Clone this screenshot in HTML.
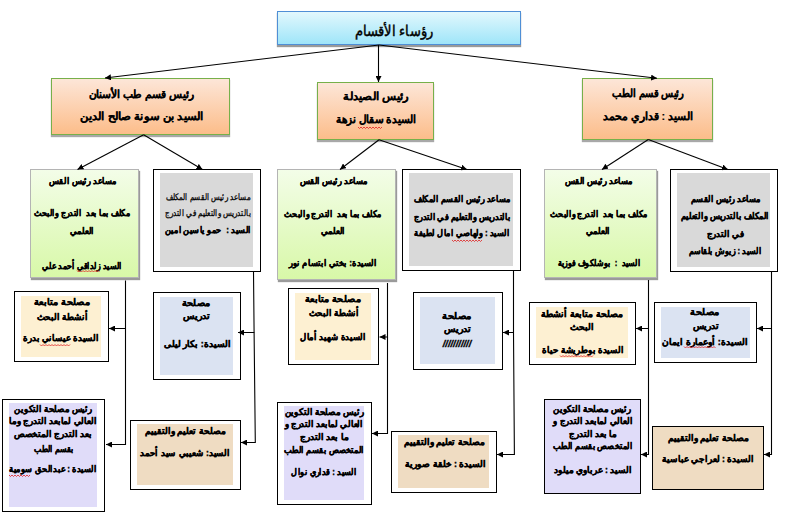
<!DOCTYPE html>
<html lang="ar"><head><meta charset="utf-8">
<style>
html,body{margin:0;padding:0;background:#fff;}
body{width:787px;height:526px;position:relative;overflow:hidden;font-family:"Liberation Sans",sans-serif;color:#000;}
.b{position:absolute;box-sizing:border-box;}
.f{position:absolute;}
.l{position:absolute;width:400px;-webkit-text-stroke:0.35px #000;text-align:center;direction:rtl;white-space:pre;line-height:1;transform-origin:200px 50%;}
.ob{border:1px solid #000;background:#fff;}
.org{border:1px solid #77b04a;background:linear-gradient(#fde6d8,#fcbd8a);box-shadow:0 2px 1px #a8a8a8;}
.grn{border:1px solid #b4b4b4;background:linear-gradient(#f3fde8,#d8f8a8);box-shadow:1px 2px 1px #9a9a9a;}
.sq{position:absolute;height:2px;background:repeating-linear-gradient(90deg,#e03030 0 1.5px,transparent 1.5px 3px);}
svg{position:absolute;left:0;top:0;}
</style></head><body>

<div class="b " style="left:277px;top:11px;width:244px;height:34px;border:1px solid #4f8fd6;background:linear-gradient(#e2f8fd,#9fe5f9);box-shadow:0 2px 1px #9a9a9a;"></div>
<div class="b org" style="left:51px;top:78px;width:179px;height:57px;"></div>
<div class="b org" style="left:317px;top:82px;width:117px;height:58px;"></div>
<div class="b org" style="left:582px;top:78px;width:131px;height:62px;"></div>
<div class="b grn" style="left:30px;top:169px;width:109px;height:109px;"></div>
<div class="b grn" style="left:277px;top:169px;width:119px;height:111px;"></div>
<div class="b grn" style="left:544px;top:169px;width:113px;height:109px;"></div>
<div class="b ob" style="left:153px;top:169px;width:108px;height:103px;"></div>
<div class="f" style="left:160px;top:173px;width:93px;height:94px;background:#d9d9d9;"></div>
<div class="b ob" style="left:402px;top:169px;width:119px;height:102px;"></div>
<div class="f" style="left:409px;top:173px;width:104px;height:93px;background:#d9d9d9;"></div>
<div class="b ob" style="left:670px;top:169px;width:108px;height:103px;"></div>
<div class="f" style="left:677px;top:173px;width:93px;height:94px;background:#d9d9d9;"></div>
<div class="b ob" style="left:14px;top:291px;width:95px;height:71px;"></div>
<div class="f" style="left:21px;top:296px;width:80px;height:61px;background:#fdf0d2;"></div>
<div class="b ob" style="left:153px;top:292px;width:88px;height:88px;"></div>
<div class="f" style="left:160px;top:297px;width:73px;height:78px;background:#dbe3f2;"></div>
<div class="b ob" style="left:288px;top:288px;width:91px;height:77px;"></div>
<div class="f" style="left:295px;top:293px;width:76px;height:67px;background:#fdf0d2;"></div>
<div class="b ob" style="left:413px;top:292px;width:90px;height:78px;"></div>
<div class="f" style="left:420px;top:297px;width:75px;height:67px;background:#dbe3f2;"></div>
<div class="b ob" style="left:529px;top:302px;width:107px;height:63px;"></div>
<div class="f" style="left:536px;top:307px;width:92px;height:51px;background:#fdf0d2;"></div>
<div class="b ob" style="left:654px;top:302px;width:103px;height:61px;"></div>
<div class="f" style="left:661px;top:307px;width:89px;height:51px;background:#dbe3f2;"></div>
<div class="b ob" style="left:2px;top:399px;width:103px;height:113px;"></div>
<div class="f" style="left:9px;top:403px;width:88px;height:104px;background:#e0dcf9;"></div>
<div class="b ob" style="left:130px;top:420px;width:111px;height:70px;"></div>
<div class="f" style="left:137px;top:424px;width:96px;height:61px;background:#efdcc2;"></div>
<div class="b ob" style="left:277px;top:402px;width:95px;height:103px;"></div>
<div class="f" style="left:284px;top:406px;width:80px;height:94px;background:#e0dcf9;"></div>
<div class="b ob" style="left:391px;top:431px;width:106px;height:62px;"></div>
<div class="f" style="left:398px;top:435px;width:91px;height:53px;background:#efdcc2;"></div>
<div class="b ob" style="left:544px;top:399px;width:97px;height:95px;background:#e0dcf9"></div>
<div class="b ob" style="left:652px;top:426px;width:112px;height:64px;background:#efdcc2"></div>
<div class="l" style="left:193.71px;top:23.3px;font-size:15px;font-weight:normal;-webkit-text-stroke:0.45px #000;transform:scaleX(0.87);">رؤساء الأقسام</div>
<div class="l" style="left:-58.64px;top:89.1px;font-size:11px;font-weight:bold;-webkit-text-stroke:0.15px #000;transform:scaleX(0.97);">رئيس قسم طب الأسنان</div>
<div class="l" style="left:-58.35px;top:110.55px;font-size:11px;font-weight:bold;-webkit-text-stroke:0.15px #000;transform:scaleX(1.05);">السيد بن سونة صالح الدين</div>
<div class="l" style="left:175.98px;top:91.0px;font-size:11px;font-weight:bold;-webkit-text-stroke:0.15px #000;transform:scaleX(1.05);">رئيس الصيدلة</div>
<div class="l" style="left:175.9px;top:113.6px;font-size:11px;font-weight:bold;-webkit-text-stroke:0.15px #000;transform:scaleX(0.95);">السيدة سقال نزهة</div>
<div class="l" style="left:448.1px;top:88.25px;font-size:11px;font-weight:bold;-webkit-text-stroke:0.15px #000;transform:scaleX(0.9);">رئيس قسم الطب</div>
<div class="l" style="left:447.84px;top:110.9px;font-size:11px;font-weight:bold;-webkit-text-stroke:0.15px #000;transform:scaleX(0.98);">السيد : قداري محمد</div>
<div class="l" style="left:-117.4px;top:177.0px;font-size:9px;font-weight:bold;transform:scaleX(0.91);">مساعد رئيس القس</div>
<div class="l" style="left:-118.16px;top:209.35px;font-size:9px;font-weight:bold;transform:scaleX(0.88);">مكلف بما بعد  التدرج والبحث</div>
<div class="l" style="left:-117.94px;top:227.15px;font-size:9px;font-weight:bold;transform:scaleX(0.93);">العلمي</div>
<div class="l" style="left:-118.51px;top:262.35px;font-size:9px;font-weight:bold;transform:scaleX(0.87);">السيد زلداقي أحمد علي</div>
<div class="l" style="left:133.61px;top:177.0px;font-size:9px;font-weight:bold;transform:scaleX(0.92);">مساعد رئيس القس</div>
<div class="l" style="left:133.04px;top:209.8px;font-size:9px;font-weight:bold;transform:scaleX(0.89);">مكلف بما بعد  التدرج والبحث</div>
<div class="l" style="left:133.17px;top:226.7px;font-size:9px;font-weight:bold;transform:scaleX(0.94);">العلمي</div>
<div class="l" style="left:132.71px;top:258.9px;font-size:9px;font-weight:bold;transform:scaleX(0.92);">السيدة: بختي ابتسام نور</div>
<div class="l" style="left:398.61px;top:177.0px;font-size:9px;font-weight:bold;transform:scaleX(0.92);">مساعد رئيس القس</div>
<div class="l" style="left:399.24px;top:209.8px;font-size:9px;font-weight:bold;transform:scaleX(0.89);">مكلف بما بعد  التدرج والبحث</div>
<div class="l" style="left:398.17px;top:226.7px;font-size:9px;font-weight:bold;transform:scaleX(0.94);">العلمي</div>
<div class="l" style="left:398.93px;top:258.9px;font-size:9px;font-weight:bold;transform:scaleX(0.86);">السيد  :  بوشلكوف فوزية</div>
<div class="l" style="left:8.15px;top:192.9px;font-size:9px;font-weight:normal;-webkit-text-stroke:0.3px #000;transform:scaleX(0.79);">مساعد رئيس القسم المكلف</div>
<div class="l" style="left:7.85px;top:209.15px;font-size:9px;font-weight:normal;-webkit-text-stroke:0.3px #000;transform:scaleX(0.8);">بالتدريس والتعليم في التدرج</div>
<div class="l" style="left:7.75px;top:225.8px;font-size:9px;font-weight:bold;transform:scaleX(0.9);">السيد :  حمو ياسين امين</div>
<div class="l" style="left:262.45px;top:194.65px;font-size:9px;font-weight:bold;transform:scaleX(0.9);">مساعد رئيس القسم المكلف</div>
<div class="l" style="left:261.55px;top:213.25px;font-size:9px;font-weight:bold;transform:scaleX(0.9);">بالتدريس والتعليم في التدرج</div>
<div class="l" style="left:261.75px;top:229.1px;font-size:9px;font-weight:bold;transform:scaleX(0.9);">السيد : ولهاصي امال لطيفة</div>
<div class="l" style="left:525.71px;top:194.75px;font-size:9px;font-weight:bold;transform:scaleX(0.91);">مساعد رئيس القسم</div>
<div class="l" style="left:524.81px;top:212.0px;font-size:9px;font-weight:bold;transform:scaleX(0.91);">المكلف بالتدريس والتعليم</div>
<div class="l" style="left:524.77px;top:229.5px;font-size:9px;font-weight:bold;transform:scaleX(0.96);">في التدرج</div>
<div class="l" style="left:525.03px;top:247.25px;font-size:9px;font-weight:bold;transform:scaleX(0.87);">السيد : زيوش بلقاسم</div>
<div class="l" style="left:-138.27px;top:298.3px;font-size:9px;font-weight:bold;transform:scaleX(1.07);">مصلحة متابعة</div>
<div class="l" style="left:-138.16px;top:312.95px;font-size:9px;font-weight:bold;transform:scaleX(0.97);">أنشطة البحث</div>
<div class="l" style="left:-138.59px;top:334.4px;font-size:9px;font-weight:bold;transform:scaleX(0.96);">السيدة عيساني بدرة</div>
<div class="l" style="left:-3.65px;top:299.05px;font-size:9px;font-weight:bold;transform:scaleX(1.07);">مصلحة</div>
<div class="l" style="left:-3.23px;top:312.05px;font-size:9px;font-weight:bold;transform:scaleX(1.04);">تدريس</div>
<div class="l" style="left:-2.75px;top:340.0px;font-size:9px;font-weight:bold;transform:scaleX(1.0);">السيدة: بكار ليلى</div>
<div class="l" style="left:133.43px;top:295.2px;font-size:9px;font-weight:bold;transform:scaleX(1.06);">مصلحة متابعة</div>
<div class="l" style="left:133.58px;top:309.0px;font-size:9px;font-weight:bold;transform:scaleX(0.96);">أنشطة البحث</div>
<div class="l" style="left:132.72px;top:333.3px;font-size:9px;font-weight:bold;transform:scaleX(0.94);">السيدة شهيد أمال</div>
<div class="l" style="left:257.0px;top:312.2px;font-size:9px;font-weight:bold;transform:scaleX(1.1);">مصلحة</div>
<div class="l" style="left:257.77px;top:324.9px;font-size:9px;font-weight:bold;transform:scaleX(1.04);">تدريس</div>
<div class="l" style="left:257.33px;top:340.1px;font-size:9px;font-weight:bold;font-style:italic;transform:scaleX(1.04);">///////////</div>
<div class="l" style="left:382.42px;top:309.5px;font-size:9px;font-weight:bold;transform:scaleX(1.02);">مصلحة متابعة أنشطة</div>
<div class="l" style="left:382.3px;top:322.95px;font-size:9px;font-weight:bold;transform:scaleX(1.01);">البحث</div>
<div class="l" style="left:382.91px;top:345.65px;font-size:9px;font-weight:bold;transform:scaleX(0.96);">السيدة بوطريشة حياة</div>
<div class="l" style="left:505.35px;top:308.25px;font-size:9px;font-weight:bold;transform:scaleX(1.08);">مصلحة</div>
<div class="l" style="left:506.01px;top:321.9px;font-size:9px;font-weight:bold;transform:scaleX(1.02);">تدريس</div>
<div class="l" style="left:505.45px;top:338.05px;font-size:9px;font-weight:bold;transform:scaleX(1.01);">السيدة: أوعمارة ايمان</div>
<div class="l" style="left:-146.75px;top:405.4px;font-size:9px;font-weight:bold;transform:scaleX(0.94);">رئيس مصلحة التكوين</div>
<div class="l" style="left:-147.15px;top:416.8px;font-size:9px;font-weight:bold;transform:scaleX(0.97);">العالي لمابعد التدرج وما</div>
<div class="l" style="left:-146.61px;top:429.95px;font-size:9px;font-weight:bold;transform:scaleX(0.98);">بعد التدرج المتخصص</div>
<div class="l" style="left:-146.37px;top:444.7px;font-size:9px;font-weight:bold;transform:scaleX(0.86);">بقسم الطب</div>
<div class="l" style="left:-147.09px;top:464.5px;font-size:9px;font-weight:bold;transform:scaleX(0.91);">السيدة : عبدالحق سومية</div>
<div class="l" style="left:-14.65px;top:427.25px;font-size:9px;font-weight:bold;transform:scaleX(1.0);">مصلحة تعليم والتقييم</div>
<div class="l" style="left:-15.02px;top:449.0px;font-size:9px;font-weight:bold;transform:scaleX(0.96);">السيد: شعيبي سيد أحمد</div>
<div class="l" style="left:124.0px;top:408.15px;font-size:9px;font-weight:bold;transform:scaleX(0.96);">رئيس مصلحة التكوين</div>
<div class="l" style="left:124.32px;top:419.65px;font-size:9px;font-weight:bold;transform:scaleX(0.95);">العالي لمابعد التدرج و</div>
<div class="l" style="left:124.15px;top:433.25px;font-size:9px;font-weight:bold;transform:scaleX(1.0);">ما بعد التدرج</div>
<div class="l" style="left:124.45px;top:445.75px;font-size:9px;font-weight:bold;transform:scaleX(0.91);">المتخصص بقسم الطب</div>
<div class="l" style="left:123.94px;top:468.2px;font-size:9px;font-weight:bold;transform:scaleX(0.89);">السيد : قداري نوال</div>
<div class="l" style="left:244.45px;top:438.15px;font-size:9px;font-weight:bold;transform:scaleX(1.0);">مصلحة تعليم والتقييم</div>
<div class="l" style="left:245.75px;top:459.55px;font-size:9px;font-weight:bold;transform:scaleX(1.0);">السيدة : خلقة صورية</div>
<div class="l" style="left:392.35px;top:405.2px;font-size:9px;font-weight:bold;transform:scaleX(0.95);">رئيس مصلحة التكوين</div>
<div class="l" style="left:393.03px;top:416.6px;font-size:9px;font-weight:bold;transform:scaleX(0.96);">العالي لمابعد التدرج و</div>
<div class="l" style="left:392.79px;top:429.9px;font-size:9px;font-weight:bold;transform:scaleX(0.97);">ما بعد التدرج</div>
<div class="l" style="left:392.6px;top:442.25px;font-size:9px;font-weight:bold;transform:scaleX(0.9);">المتخصص بقسم الطب</div>
<div class="l" style="left:393.04px;top:465.6px;font-size:9px;font-weight:bold;transform:scaleX(0.98);">السيد : عرباوي ميلود</div>
<div class="l" style="left:508.5px;top:433.95px;font-size:9px;font-weight:bold;transform:scaleX(1.0);">مصلحة تعليم والتقييم</div>
<div class="l" style="left:507.74px;top:455.45px;font-size:9px;font-weight:bold;transform:scaleX(0.98);">السيدة : لعراجي عباسية</div>
<svg width="787" height="526" viewBox="0 0 787 526">
<defs>
<marker id="ar" markerWidth="6" markerHeight="6" refX="6" refY="3" orient="auto" markerUnits="userSpaceOnUse">
<path d="M0,0 L6,3 L0,6 z" fill="#000"/></marker>
</defs>
<g stroke="#000" stroke-width="1.1" fill="none">
<line x1="379" y1="45" x2="105" y2="78" marker-end="url(#ar)"/>
<line x1="378.5" y1="45" x2="378.5" y2="82" marker-end="url(#ar)"/>
<line x1="379" y1="45" x2="657" y2="78.3" marker-end="url(#ar)"/>
<line x1="143.6" y1="134.8" x2="77.5" y2="169.5" marker-end="url(#ar)"/>
<line x1="143.6" y1="134.8" x2="202.5" y2="169.5" marker-end="url(#ar)"/>
<line x1="379" y1="139.8" x2="340" y2="169.5" marker-end="url(#ar)"/>
<line x1="379" y1="139.8" x2="467" y2="169.5" marker-end="url(#ar)"/>
<line x1="648.3" y1="139.5" x2="602" y2="169.5" marker-end="url(#ar)"/>
<line x1="648.3" y1="139.5" x2="727.9" y2="169.5" marker-end="url(#ar)"/>
<polyline points="125.5,280.5 125.5,328.5 109,328.5" marker-end="url(#ar)"/>
<polyline points="125.5,328.5 125.5,444.5 106,444.5" marker-end="url(#ar)"/>
<polyline points="253.5,271.5 254.1,332.5 238,332.5" marker-end="url(#ar)"/>
<polyline points="254.1,332.5 255.3,442.5 241,442.5" marker-end="url(#ar)"/>
<polyline points="387.5,283 387.5,337 379.5,337" marker-end="url(#ar)"/>
<polyline points="387.5,337 387.5,433.5 372,433.5" marker-end="url(#ar)"/>
<polyline points="513.5,270.5 513.5,332.5 503,332.5" marker-end="url(#ar)"/>
<polyline points="513.5,332.5 514.4,454.5 497,454.5" marker-end="url(#ar)"/>
<polyline points="648.5,280 648.5,328.5 636,328.5" marker-end="url(#ar)"/>
<polyline points="648.5,328.5 648.5,454.5 641,454.5" marker-end="url(#ar)"/>
<polyline points="771.5,271.5 771.5,328.5 757,328.5" marker-end="url(#ar)"/>
<polyline points="771.5,328.5 771.5,454.5 764,454.5" marker-end="url(#ar)"/>
</g>

<g stroke="#e02020" stroke-width="0.8" fill="none"><polyline points="358,127 359.5,128.5 361.0,127 362.5,128.5 364.0,127 365.5,128.5 367.0,127 368.5,128.5 370.0,127 371.5,128.5 373.0,127 374.5,128.5 376.0,127 377.5,128.5 379.0,127 380.5,128.5 382.0,127"/><polyline points="77,270.5 78.5,272.0 80.0,270.5 81.5,272.0 83.0,270.5 84.5,272.0 86.0,270.5 87.5,272.0 89.0,270.5 90.5,272.0 92.0,270.5 93.5,272.0 95.0,270.5 96.5,272.0 98.0,270.5 99.5,272.0"/><polyline points="40,344.5 41.5,346.0 43.0,344.5 44.5,346.0 46.0,344.5 47.5,346.0 49.0,344.5 50.5,346.0 52.0,344.5 53.5,346.0 55.0,344.5 56.5,346.0 58.0,344.5 59.5,346.0 61.0,344.5 62.5,346.0 64.0,344.5 65.5,346.0 67.0,344.5 68.5,346.0 70.0,344.5"/><polyline points="560,355.5 561.5,357.0 563.0,355.5 564.5,357.0 566.0,355.5 567.5,357.0 569.0,355.5 570.5,357.0 572.0,355.5 573.5,357.0 575.0,355.5 576.5,357.0 578.0,355.5 579.5,357.0 581.0,355.5 582.5,357.0 584.0,355.5 585.5,357.0 587.0,355.5 588.5,357.0 590.0,355.5 591.5,357.0 593.0,355.5"/><polyline points="684,346.5 685.5,348.0 687.0,346.5 688.5,348.0 690.0,346.5 691.5,348.0 693.0,346.5 694.5,348.0 696.0,346.5 697.5,348.0 699.0,346.5 700.5,348.0 702.0,346.5 703.5,348.0 705.0,346.5 706.5,348.0 708.0,346.5 709.5,348.0 711.0,346.5 712.5,348.0 714.0,346.5 715.5,348.0"/><polyline points="9,475 10.5,476.5 12.0,475 13.5,476.5 15.0,475 16.5,476.5 18.0,475 19.5,476.5 21.0,475 22.5,476.5 24.0,475 25.5,476.5 27.0,475 28.5,476.5 30.0,475"/><polyline points="452,240 453.5,241.5 455.0,240 456.5,241.5 458.0,240 459.5,241.5 461.0,240 462.5,241.5 464.0,240 465.5,241.5 467.0,240 468.5,241.5 470.0,240 471.5,241.5 473.0,240 474.5,241.5 476.0,240 477.5,241.5 479.0,240 480.5,241.5 482.0,240"/></g>
</svg>
</body></html>
